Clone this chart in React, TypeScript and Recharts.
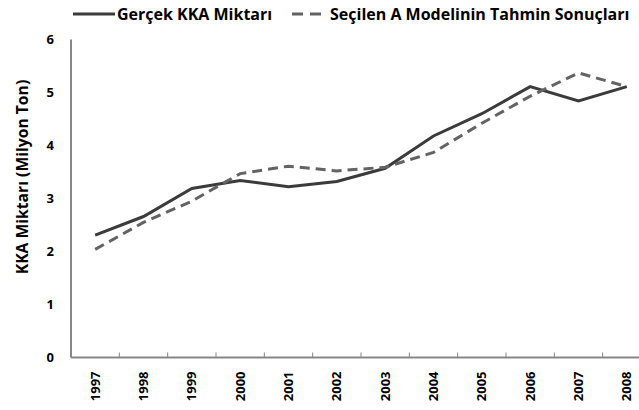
import { Line, LineChart, XAxis, YAxis } from 'recharts';

const YEARS = ['1997', '1998', '1999', '2000', '2001', '2002', '2003', '2004', '2005', '2006', '2007', '2008'];
const GERCEK = [2.31, 2.66, 3.19, 3.34, 3.22, 3.32, 3.57, 4.18, 4.6, 5.11, 4.84, 5.11];
const TAHMIN = [2.04, 2.55, 2.95, 3.47, 3.61, 3.52, 3.59, 3.87, 4.42, 4.93, 5.37, 5.11];
const Y_TICKS = [0, 1, 2, 3, 4, 5, 6];

const FONT = '"Open Sans", sans-serif';
const AXIS_COLOR = '#878787';
const SOLID_COLOR = '#3b3b3b';
const DASH_COLOR = '#636363';

const data = YEARS.map((year, i) => ({ year, gercek: GERCEK[i], tahmin: TAHMIN[i] }));

// year labels run upwards; the small tick mark sits between categories like in Excel
function YearTick(props: any) {
  const { x, y, payload } = props;
  const half = payload?.offset ?? 24.2;
  return (
    <g>
      <line x1={x + half} y1={y} x2={x + half} y2={y - 5} stroke={AXIS_COLOR} strokeWidth={1} />
      <text
        transform={`translate(${x},${y + 14}) rotate(-90)`}
        textAnchor="end"
        dy="0.35em"
        fontFamily={FONT}
        fontWeight={700}
        fontSize={13}
        fill="#000"
      >
        {payload.value}
      </text>
    </g>
  );
}

function LegendRow() {
  const item = (dash: boolean, label: string, left: number, lineW: number) => (
    <div style={{ position: 'absolute', left, top: 3, display: 'flex', alignItems: 'center', whiteSpace: 'nowrap' }}>
      <svg width={lineW + 2} height={20}>
        <line
          x1={0}
          y1={10}
          x2={lineW}
          y2={10}
          stroke={dash ? DASH_COLOR : SOLID_COLOR}
          strokeWidth={3}
          strokeDasharray={dash ? '11 7' : undefined}
        />
      </svg>
      <span style={{ fontFamily: FONT, fontWeight: 700, fontSize: 16, color: '#000' }}>{label}</span>
    </div>
  );
  return (
    <>
      {item(false, 'Gerçek KKA Miktarı', 73, 42)}
      {item(true, 'Seçilen A Modelinin Tahmin Sonuçları', 292, 36)}
    </>
  );
}

export default function App() {
  return (
    <div style={{ position: 'absolute', left: 0, top: 0, width: 639, height: 410, overflow: 'hidden', background: '#fff' }}>
      <LegendRow />
      <div
        style={{
          position: 'absolute',
          left: 22,
          top: 177,
          transform: 'translate(-50%, -50%) rotate(-90deg)',
          fontFamily: FONT,
          fontWeight: 700,
          fontSize: 15.7,
          whiteSpace: 'nowrap',
          color: '#000',
        }}
      >
        KKA Miktarı (Milyon Ton)
      </div>
      <div style={{ position: 'absolute', left: 0, top: 0 }}>
        <LineChart width={660} height={410} data={data} margin={{ top: 39.5, right: 9, bottom: 0, left: 0 }}>
          <XAxis
            dataKey="year"
            scale="band"
            height={52.5}
            tickLine={false}
            tickSize={0}
            tickMargin={0}
            interval={0}
            axisLine={{ stroke: AXIS_COLOR, strokeWidth: 2 }}
            tick={<YearTick />}
          />
          <YAxis
            width={71}
            domain={[0, 6]}
            ticks={Y_TICKS}
            tickLine={false}
            tickSize={0}
            tickMargin={17}
            axisLine={{ stroke: AXIS_COLOR, strokeWidth: 2 }}
            tick={{ fontFamily: FONT, fontWeight: 700, fontSize: 13, fill: '#000' }}
          />
          <Line dataKey="gercek" stroke={SOLID_COLOR} strokeWidth={3} dot={false} isAnimationActive={false} />
          <Line
            dataKey="tahmin"
            stroke={DASH_COLOR}
            strokeWidth={3}
            strokeDasharray="10 6"
            dot={false}
            isAnimationActive={false}
          />
        </LineChart>
      </div>
    </div>
  );
}
